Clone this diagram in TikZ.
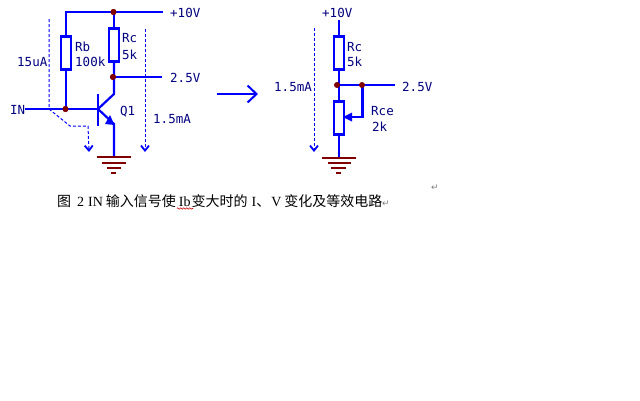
\documentclass[tikz,border=0pt]{standalone}
\usepackage{fontspec}
\setmainfont{Liberation Serif}
\newfontfamily\lblfont{DejaVu Sans Mono}
\newfontfamily\cjkfont{Noto Sans CJK SC}
\newfontfamily\symfont{DejaVu Sans}
\usetikzlibrary{arrows.meta,decorations.pathmorphing}
\definecolor{wireblue}{RGB}{0,0,255}
\definecolor{gndbrown}{RGB}{128,0,0}
\definecolor{lblblue}{RGB}{0,0,128}
\tikzset{
 wire/.style={draw=wireblue,line width=2.2pt},
 gnd/.style={draw=gndbrown,line width=2pt},
 res/.style={draw=wireblue,line width=2.2pt,fill=white,rectangle,inner sep=0pt,minimum width=10pt,minimum height=33pt},
 dot/.style={circle,fill=gndbrown,inner sep=0pt,minimum size=6pt},
 lbl/.style={text=lblblue,inner sep=0pt,font=\lblfont\fontsize{12.5}{13}\selectfont},
 cur/.style={draw=wireblue,line width=1pt,dash pattern=on 3pt off 2pt,-{Straight Barb[length=5pt,width=8pt,line width=1.8pt]}},
}
\begin{document}
\begin{tikzpicture}[x=1pt,y=-1pt]
\useasboundingbox[fill=white] (0,0) rectangle (640,400);
% left circuit
\coordinate (tl) at (66,12); \coordinate (vcc) at (163,12);
\node[dot] (jt) at (113.5,12) {};
\node[res] (rb) at (66,53) {};
\node[res] (rc) at (114,45) {};
\node[dot] (jb) at (65.5,109) {};
\node[dot] (jc) at (113,77) {};
\coordinate (in) at (25,109); \coordinate (b) at (98,109);
\coordinate (out) at (162,77);
\coordinate (cd) at (114,94); \coordinate (ed) at (114,124);
\coordinate (bt) at (98,94); \coordinate (bb) at (98,126);
\coordinate (g1) at (114,156);
\draw[wire] (vcc) -- (tl) -- (rb.north);
\draw[wire] (rb.south) -- (66,109);
\draw[wire] (rc.north |- jt) -- (rc.north);
\draw[wire] (rc.south) -- (cd) -- (b);
\draw[wire] (jc) -- (out);
\draw[wire] (in) -- (b);
\draw[wire] (bt) -- (bb);
\draw[wire] (b) -- (ed) -- (g1);
\fill[wireblue] (114.5,125) -- (105,124) -- (110,115) -- cycle;
\node[dot] at (jt) {}; \node[dot] at (jb) {}; \node[dot] at (jc) {};
\draw[gnd] (97,157) -- (131,157);
\draw[gnd] (102,163) -- (126,163);
\draw[gnd] (107,168) -- (121,168);
\draw[gnd] (111,173) -- (116,173);
\draw[cur] (49,19) -- (49,109) -- (70,126) -- (88,126) -- (89,152);
\draw[cur] (145,29) -- (145,152);
\node[lbl,anchor=west] (l1) at (170,13) {+10V};
\node[lbl,anchor=west] at (75,47) {Rb};
\node[lbl,anchor=west] at (75,62) {100k};
\node[lbl,anchor=west] at (122,38) {Rc};
\node[lbl,anchor=west] at (122,55) {5k};
\node[lbl,anchor=west] at (170,78) {2.5V};
\node[lbl,anchor=west] at (17,62) {15uA};
\node[lbl,anchor=west] at (10,110) {IN};
\node[lbl,anchor=west] at (120,112) {Q1};
\node[lbl,anchor=west] at (153,119) {1.5mA};
% arrow
\coordinate (a1) at (217,94); \coordinate (a2) at (258,94);
\draw[wire,-{Straight Barb[length=9pt,width=17pt,line width=2pt]}] (a1) -- (a2);
% right circuit
\node[res] (rc2) at (339,53) {};
\node[res] (rce) at (339,118) {};
\coordinate (t2) at (339,20); \coordinate (o2) at (395,85);
\coordinate (g2) at (339,157); \coordinate (w1) at (362.5,117);
\draw[wire] (t2) -- (rc2.north);
\draw[wire] (rc2.south) -- (rce.north);
\draw[wire] (rce.south) -- (g2);
\draw[wire] (337,85) -- (o2);
\draw[wire] (362.5,85) -- (w1) -- (rce.east |- w1);
\fill[wireblue] (343,117) -- (352,112.5) -- (352,121.5) -- cycle;
\node[dot] (j1) at (337,85) {};
\node[dot] (j2) at (362,85) {};
\draw[gnd] (322,158) -- (356,158);
\draw[gnd] (328,163) -- (351,163);
\draw[gnd] (331,168) -- (346,168);
\draw[gnd] (336,173) -- (341,173);
\draw[cur] (314,28) -- (314,152);
\node[lbl,anchor=west] at (322,13) {+10V};
\node[lbl,anchor=west] at (347,47) {Rc};
\node[lbl,anchor=west] at (347,62) {5k};
\node[lbl,anchor=west] at (274,87) {1.5mA};
\node[lbl,anchor=west] at (402,87) {2.5V};
\node[lbl,anchor=west] at (371,111) {Rce};
\node[lbl,anchor=west] at (372,127) {2k};
% caption
\node[anchor=base west,inner sep=0pt,font=\fontsize{14}{14}\selectfont] (cap) at (57,206)
 {{\cjkfont 图}\kern6pt 2\kern4pt IN\kern3pt{\cjkfont 输入信号使}\kern3pt Ib\kern1pt{\cjkfont 变大时的}\kern4pt I{\cjkfont 、}\kern1pt V\kern3pt{\cjkfont 变化及等效电路}};
\node[anchor=base west,inner sep=0pt,text=gray,font=\symfont\fontsize{9}{9}\selectfont] at (382,206) {↵};
\node[anchor=base west,inner sep=0pt,text=gray,font=\symfont\fontsize{9}{9}\selectfont] at (431,190) {↵};
\draw[red!80!black,line width=0.6pt,decorate,decoration={zigzag,amplitude=0.7pt,segment length=3pt}] (177,208.5) -- (193,208.5);
\end{tikzpicture}
\end{document}
